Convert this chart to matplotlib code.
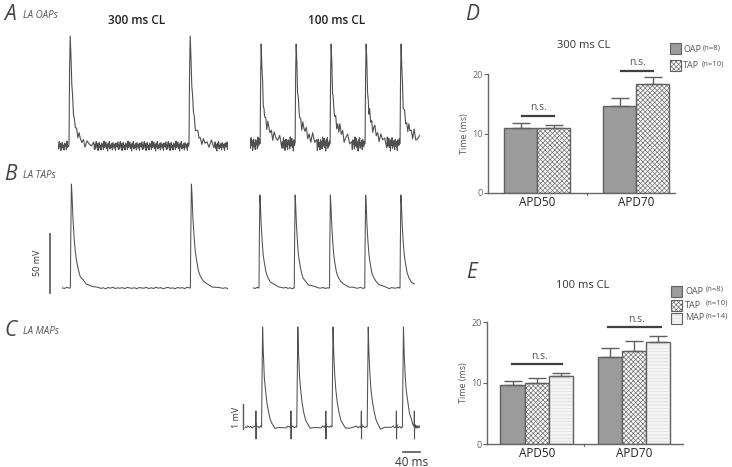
import numpy as np
import matplotlib
matplotlib.use("Agg")
import matplotlib.pyplot as plt
from matplotlib.patches import Rectangle

plt.rcParams["font.family"] = ["Open Sans", "DejaVu Sans"]
plt.rcParams["hatch.linewidth"] = 0.5

W, H = 732, 467

# ---- trace data (time in ms, amplitude normalised: 0 = baseline, 1 = peak) ----
# AP shapes, time relative to upstroke
OAP_T = [-1, 0, 1.5, 3, 5, 7, 9, 11, 13, 16, 19, 22, 25, 28, 32, 36, 40, 45, 50, 56, 62]
OAP_V = [0.0, 0.02, 0.7, 1.0, 0.78, 0.57, 0.42, 0.32, 0.25, 0.18, 0.14, 0.11, 0.09, 0.07,
         0.05, 0.04, 0.03, 0.02, 0.02, 0.01, 0.0]
OAP_TAIL = [0.0, 0.0, 0.0, 0.0, 0.0, 0.0, 0.0, 0.02, 0.04, 0.05, 0.06, 0.07, 0.07, 0.07,
            0.06, 0.06, 0.05, 0.04, 0.03, 0.02, 0.01]
TAP_T = [-2, 0, 1, 2.5, 4, 6, 9, 12, 15, 20, 25, 32, 40, 55, 70]
TAP_V = [0.0, 0.0, 0.5, 1.0, 0.9, 0.7, 0.5, 0.36, 0.27, 0.17, 0.11, 0.07, 0.04, 0.015, 0.0]
MAP_T = [-1, 0, 1.5, 3, 5, 8, 11, 15, 20, 25, 30, 38, 50, 70]
MAP_V = [0.0, 0.0, 0.5, 1.0, 0.75, 0.5, 0.37, 0.25, 0.14, 0.08, 0.03, -0.01, -0.01, 0.0]
ART_T = [-0.6, 0, 0.4, 0.9, 1.4]          # pacing artefact on MAP trace
ART_V = [0.02, 0.16, -0.12, 0.03, 0.0]

# hand-read baseline jitter (arbitrary units, cycled)
NOISE = [0.3, -0.6, 0.9, -0.2, 0.5, -0.9, 0.1, 0.7, -0.4, 0.2, -0.8, 0.6, -0.1, 0.4,
         -0.7, 1.0, -0.3, 0.0, 0.8, -0.5, 0.3, -1.0, 0.6, -0.2, 0.9, -0.6, 0.2, -0.3,
         0.5, -0.8, 0.7, 0.1, -0.4, 0.4, -0.9, 0.6, 0.0, -0.2, 0.8, -0.7]

# beat (upstroke) times in ms for each recording
A300_BEATS = [27.5, 327.5]
A100_BEATS = [29, 129, 229, 329, 429]
B300_BEATS = [21, 321]
B100_BEATS = [17, 117, 217, 317, 417]
C100_BEATS = [47, 147, 247, 347, 447]
C100_ARTS = [31, 130.5, 229.5, 330.5, 430, 481]

# ---- bar chart data ----
GROUPS = ["APD50", "APD70"]
D_OAP = [10.9, 14.7]
D_OAP_ERR = [0.8, 1.2]
D_TAP = [10.9, 18.3]
D_TAP_ERR = [0.6, 1.2]
E_OAP = [9.6, 14.2]
E_OAP_ERR = [0.8, 1.5]
E_TAP = [10.0, 15.3]
E_TAP_ERR = [0.9, 1.6]
E_MAP = [11.2, 16.8]
E_MAP_ERR = [0.5, 0.9]

TRACE_C = "#505050"
TXT_C = "#333333"

fig = plt.figure(figsize=(W / 100, H / 100), dpi=100)


def fx(px):
    return px / W


def fy(py):
    return 1 - py / H


def txt(x, y, s, **kw):
    kw.setdefault("color", TXT_C)
    kw.setdefault("ha", "center")
    kw.setdefault("va", "center")
    fig.text(fx(x), fy(y), s, **kw)


def trace_ax(x0, x1, t0, t1, base, peak, lo=-0.4, hi=1.1):
    amp = base - peak
    top = base - hi * amp
    bot = base - lo * amp
    ax = fig.add_axes([fx(x0), fy(bot), (x1 - x0) / W, (bot - top) / H])
    ax.set_xlim(t0, t1)
    ax.set_ylim(lo, hi)
    ax.axis("off")
    return ax


def build(beats, t0, t1, shp_t, shp_v, noise_amp=0.0, tail=None, step=2.0, arts=()):
    """Stitch AP templates at each beat, baseline (with jitter) in between."""
    ts, vs = [], []
    k = 0
    segs = sorted([(b, "ap") for b in beats] + [(a, "art") for a in arts])
    cur = t0
    for b, kind in segs:
        st_t = ART_T if kind == "art" else shp_t
        st_v = ART_V if kind == "art" else shp_v
        t_next = b + st_t[0]
        while cur < t_next:
            ts.append(cur)
            vs.append(NOISE[k % len(NOISE)] * noise_amp)
            k += 1
            cur += step
        for i, (dt, v) in enumerate(zip(st_t, st_v)):
            if b + dt > t1:
                break
            extra = tail[i] if (tail is not None and kind == "ap") else 0.0
            n = NOISE[k % len(NOISE)] * noise_amp if (kind == "ap" and i > 3) else 0.0
            k += 1
            ts.append(b + dt)
            vs.append(v + extra + n)
        cur = b + st_t[-1] + step
    while cur <= t1:
        ts.append(cur)
        vs.append(NOISE[k % len(NOISE)] * noise_amp)
        k += 1
        cur += step
    return np.array(ts), np.array(vs)


# ---- A: optical APs ----
ax = trace_ax(58, 228, 0, 425, 146, 36)
t, v = build(A300_BEATS, 0, 425, OAP_T, OAP_V, noise_amp=0.045, step=1.5)
ax.plot(t, v, color=TRACE_C, lw=0.8)

ax = trace_ax(250, 420, 0, 486, 144, 44)
t, v = build(A100_BEATS, 0, 486, OAP_T, OAP_V, noise_amp=0.07, tail=OAP_TAIL, step=1.5)
ax.plot(t, v, color=TRACE_C, lw=0.8)

# ---- B: transmembrane APs ----
ax = trace_ax(62, 228, 0, 415, 288, 184)
t, v = build(B300_BEATS, 0, 415, TAP_T, TAP_V, noise_amp=0.008, step=6.0)
ax.plot(t, v, color=TRACE_C, lw=0.75)

ax = trace_ax(253, 418, 0, 468, 288, 195)
t, v = build(B100_BEATS, 0, 468, TAP_T, TAP_V, noise_amp=0.008, step=6.0)
ax.plot(t, v, color=TRACE_C, lw=0.75)

# ---- C: monophasic APs ----
ax = trace_ax(245, 420, 0, 497, 427, 327)
t, v = build(C100_BEATS, 0, 497, MAP_T, MAP_V, noise_amp=0.012, step=4.0, arts=C100_ARTS)
ax.plot(t, v, color=TRACE_C, lw=0.75)

# scale bars
sb = fig.add_axes([0, 0, 1, 1], facecolor="none")
sb.set_xlim(0, W)
sb.set_ylim(H, 0)
sb.axis("off")
sb.plot([50, 50], [234, 293], color="#555555", lw=1.2)
sb.plot([243, 243], [404, 429], color="#555555", lw=1.0)
sb.plot([403, 420], [452, 452], color="#555555", lw=1.2)
txt(38, 263, "50 mV", fontsize=6.5, rotation=90)
txt(236, 417, "1 mV", fontsize=6.5, rotation=90)
txt(412, 462, "40 ms", fontsize=8.5)

# panel labels
for lab, sub, y in [("A", "LA OAPs", 14), ("B", "LA TAPs", 175), ("C", "LA MAPs", 331)]:
    txt(4, y, lab, fontsize=15, style="italic", ha="left", color="#444444")
    txt(23, y + 1, sub, fontsize=7, style="italic", ha="left", color="#555555")
txt(137, 21, "300 ms CL", fontsize=8.5, fontweight="semibold", color="#222222")
txt(337, 21, "100 ms CL", fontsize=8.5, fontweight="semibold", color="#222222")
txt(465, 15, "D", fontsize=15, style="italic", ha="left", color="#444444")
txt(466, 272, "E", fontsize=15, style="italic", ha="left", color="#444444")

OAP_FC, EDGE = "#9b9b9b", "#606060"
TAP_HC = "#707070"


def style_bar_ax(ax, sep):
    for s in ["top", "right"]:
        ax.spines[s].set_visible(False)
    for s in ["left", "bottom"]:
        ax.spines[s].set_color("#666666")
        ax.spines[s].set_linewidth(1.0)
    ax.set_ylim(0, 20)
    ax.set_yticks([0, 10, 20])
    ax.tick_params(axis="y", length=3, width=0.8, color="#666666", labelsize=6.5,
                   labelcolor="#666666", pad=1)
    ax.tick_params(axis="x", length=0, labelsize=8.5, labelcolor="#222222", pad=2)
    ax.set_ylabel("Time (ms)", fontsize=6.5, color="#555555", labelpad=2)
    ax.plot([sep, sep], [0, -0.35], color="#666666", lw=0.8, clip_on=False)


def draw_bars(ax, x, vals, errs, kind, width):
    if kind == "OAP":
        ax.bar(x, vals, width, color=OAP_FC, edgecolor=EDGE, lw=1.0)
    elif kind == "TAP":
        ax.bar(x, vals, width, color="white", edgecolor=TAP_HC, hatch="xxxxxxx", lw=0)
        ax.bar(x, vals, width, color="none", edgecolor=EDGE, lw=1.0)
    else:
        ax.bar(x, vals, width, color="#f4f4f4", edgecolor="#dddddd", hatch="-----", lw=0)
        ax.bar(x, vals, width, color="none", edgecolor=EDGE, lw=1.0)
    ax.errorbar(x, vals, yerr=[np.zeros(len(errs)), errs], fmt="none", ecolor=EDGE,
                elinewidth=1.0, capsize=6.5, capthick=1.0)


def ns(ax, x0, x1, y, ty, tx):
    ax.plot([x0, x1], [y, y], color="#404040", lw=1.6, clip_on=False)
    ax.text(tx, ty, "n.s.", ha="center", va="center", fontsize=7.5, color="#555555",
            clip_on=False)


def legend_sq(x, y, face, hatch=None, hc=None):
    fig.patches.append(Rectangle((fx(x), fy(y + 11)), 11 / W, 11 / H,
                                 transform=fig.transFigure, facecolor=face,
                                 edgecolor=hc if hc else EDGE, hatch=hatch, lw=0 if hatch else 0.8))
    if hatch:
        fig.patches.append(Rectangle((fx(x), fy(y + 11)), 11 / W, 11 / H,
                                     transform=fig.transFigure, facecolor="none",
                                     edgecolor=EDGE, lw=0.8))


# ---- D: 300 ms CL bars ----
axd = fig.add_axes([fx(488), fy(193), (675 - 488) / W, (193 - 74) / H])
gx = np.array([1.5, 4.5])
draw_bars(axd, gx - 0.5, D_OAP, D_OAP_ERR, "OAP", 1.0)
draw_bars(axd, gx + 0.5, D_TAP, D_TAP_ERR, "TAP", 1.0)
axd.set_xlim(0, 5.67)
axd.set_xticks(gx)
axd.set_xticklabels(GROUPS)
style_bar_ax(axd, 3.0)
ns(axd, 1.03, 2.0, 12.9, 14.3, 1.52)
ns(axd, 4.03, 5.0, 20.5, 21.9, 4.52)
txt(584, 45, "300 ms CL", fontsize=8)
legend_sq(670, 43, OAP_FC)
legend_sq(670, 60, "white", "xxxxxxx", TAP_HC)
txt(683, 49, "OAP", fontsize=6.5, ha="left", color="#555555")
txt(703, 48, "(n=8)", fontsize=5.5, ha="left", color="#555555")
txt(683, 66, "TAP", fontsize=6.5, ha="left", color="#555555")
txt(702, 64, "(n=10)", fontsize=5.5, ha="left", color="#555555")

# ---- E: 100 ms CL bars ----
axe = fig.add_axes([fx(487), fy(444), (683 - 487) / W, (444 - 322) / H])
gx = np.array([2.05, 6.05])
draw_bars(axe, gx - 1, E_OAP, E_OAP_ERR, "OAP", 1.0)
draw_bars(axe, gx, E_TAP, E_TAP_ERR, "TAP", 1.0)
draw_bars(axe, gx + 1, E_MAP, E_MAP_ERR, "MAP", 1.0)
axe.set_xlim(0, 8.07)
axe.set_xticks(gx)
axe.set_xticklabels(GROUPS)
style_bar_ax(axe, 4.0)
ns(axe, 1.03, 3.09, 13.1, 14.4, 2.18)
ns(axe, 4.98, 7.16, 19.1, 20.4, 6.16)
txt(583, 286, "100 ms CL", fontsize=8)
legend_sq(671, 286, OAP_FC)
legend_sq(671, 300, "white", "xxxxxxx", TAP_HC)
legend_sq(671, 313, "#f4f4f4", "-----", "#dddddd")
for name, n, y in [("OAP", "(n=8)", 291), ("TAP", "(n=10)", 305), ("MAP", "(n=14)", 318)]:
    txt(685, y, name, fontsize=6.5, ha="left", color="#555555")
    txt(706, y - 2, n, fontsize=5.5, ha="left", color="#555555")

fig.savefig("out.png", dpi=100)
